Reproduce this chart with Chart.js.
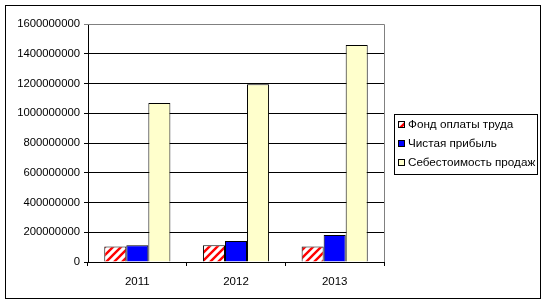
<!DOCTYPE html>
<html>
<head>
<meta charset="utf-8">
<script src="https://cdn.jsdelivr.net/npm/chart.js@4"></script>
<style>
  html, body { margin: 0; padding: 0; background: #fff; }
  #wrap { width: 546px; height: 303px; }
</style>
</head>
<body>
<div id="wrap"><canvas id="chart" width="546" height="303"></canvas></div>
<script>
const years = ["2011", "2012", "2013"];

const payrollFund = [105000000, 112000000, 105000000];
const netProfit = [112000000, 141000000, 181000000];
const costOfSales = [1069000000, 1195000000, 1459000000];

const seriesLabels = ["Фонд оплаты труда", "Чистая прибыль", "Себестоимость продаж"];

const fontFamily = "'Liberation Sans', Arial, sans-serif";

// red diagonal hatch like the Excel pattern fill
const makeHatch = () => {
    const c = document.createElement('canvas');
    c.width = 8;
    c.height = 8;
    const g = c.getContext('2d');
    g.fillStyle = '#ffffff';
    g.fillRect(0, 0, 8, 8);
    g.strokeStyle = '#ff0000';
    g.lineWidth = 2.4;
    g.beginPath();
    g.moveTo(-2, 10); g.lineTo(10, -2);
    g.moveTo(-6, 6); g.lineTo(6, -6);
    g.moveTo(2, 14); g.lineTo(14, 2);
    g.stroke();
    return g.createPattern(c, 'repeat');
};

const frameAndLegend = {
    id: 'frameAndLegend',
    beforeDraw(chart) {
        const ctx = chart.ctx;
        ctx.save();
        ctx.fillStyle = '#fff';
        ctx.fillRect(0, 0, chart.width, chart.height);
        ctx.restore();
    },
    afterDraw(chart) {
        const ctx = chart.ctx;
        const a = chart.chartArea;
        ctx.save();
        // outer frame
        ctx.strokeStyle = '#000';
        ctx.lineWidth = 1;
        ctx.strokeRect(5.5, 5.5, 535, 293);
        // plot border top / right
        ctx.strokeStyle = '#808080';
        ctx.beginPath();
        ctx.moveTo(a.left, Math.round(a.top) + 0.5);
        ctx.lineTo(Math.round(a.right) + 0.5, Math.round(a.top) + 0.5);
        ctx.lineTo(Math.round(a.right) + 0.5, a.bottom);
        ctx.stroke();
        // legend
        ctx.strokeStyle = '#000';
        ctx.strokeRect(394.5, 114.5, 143, 60);
        ctx.font = '11.7px ' + fontFamily;
        ctx.textBaseline = 'middle';
        chart.data.datasets.forEach((ds, i) => {
            const y = 125 + i * 19;
            ctx.fillStyle = ds.backgroundColor;
            ctx.fillRect(398.5, y - 3.5, 6, 6);
            ctx.strokeStyle = '#000';
            ctx.strokeRect(398.5, y - 3.5, 6, 6);
            ctx.fillStyle = '#000';
            ctx.fillText(ds.label, 408, y);
        });
        ctx.restore();
    }
};

const hatch = makeHatch();

new Chart(document.getElementById('chart'), {
    type: 'bar',
    data: {
        labels: years,
        datasets: [{
            label: seriesLabels[0],
            data: payrollFund,
            backgroundColor: hatch,
            borderColor: '#000',
            borderWidth: 1
        },
        {
            label: seriesLabels[1],
            data: netProfit,
            backgroundColor: '#0000ff',
            borderColor: '#000',
            borderWidth: 1
        },
        {
            label: seriesLabels[2],
            data: costOfSales,
            backgroundColor: '#ffffcc',
            borderColor: '#000',
            borderWidth: 1
        }]
    },
    options: {
        responsive: false,
        animation: false,
        events: [],
        layout: {
            padding: { left: 0, top: 24, right: 162, bottom: 0 }
        },
        datasets: {
            bar: {
                categoryPercentage: 0.67,
                barPercentage: 1.0
            }
        },
        plugins: {
            legend: { display: false },
            tooltip: { enabled: false }
        },
        scales: {
            x: {
                grid: {
                    offset: true,
                    drawOnChartArea: false,
                    color: '#000',
                    tickLength: 4
                },
                border: { color: '#000' },
                ticks: {
                    color: '#000',
                    font: { family: fontFamily, size: 11.5 },
                    padding: 9
                },
                afterFit: (scale) => { scale.height = 41; }
            },
            y: {
                min: 0,
                max: 1600000000,
                ticks: {
                    stepSize: 200000000,
                    color: '#000',
                    font: { family: fontFamily, size: 11.3 },
                    padding: 4,
                    callback: (v) => String(v)
                },
                grid: {
                    color: (c) => c.tick && c.tick.value === 1600000000 ? '#808080' : '#000',
                    tickLength: 4
                },
                border: { color: '#000' },
                afterFit: (scale) => { scale.width = 88; }
            }
        }
    },
    plugins: [frameAndLegend]
});
</script>
</body>
</html>
